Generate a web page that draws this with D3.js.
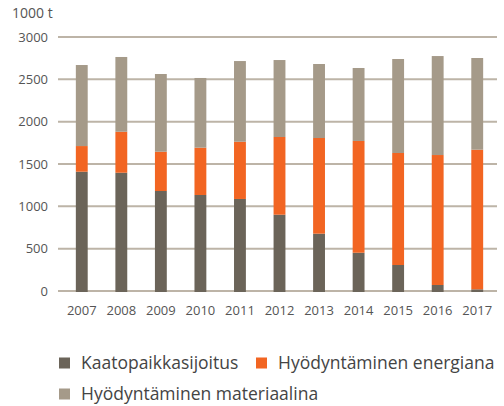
<!DOCTYPE html>
<html>
<head>
<meta charset="utf-8">
<script src="https://cdn.jsdelivr.net/npm/d3@7"></script>
<style>
  body { margin: 0; background: #fff; }
  text { font-family: "Open Sans", sans-serif; }
</style>
</head>
<body>
<script>
let w = 504;
let h = 406;

// data (1000 t)
let years = ["2007", "2008", "2009", "2010", "2011", "2012", "2013", "2014", "2015", "2016", "2017"];
let landfill = [1409, 1397, 1181, 1134, 1087, 901, 677, 452, 307, 71, 20];
let energy = [303, 484, 464, 559, 676, 918, 1130, 1320, 1323, 1535, 1649];
let material = [957, 883, 918, 823, 953, 909, 874, 862, 1110, 1169, 1083];
let seriesNames = ["Kaatopaikkasijoitus", "Hyödyntäminen energiana", "Hyödyntäminen materiaalina"];
let seriesColors = ["#6b6459", "#f26522", "#a59a89"];
let yTicks = [0, 500, 1000, 1500, 2000, 2500, 3000];

let rows = years.map((y, i) => ({ year: y, a: landfill[i], b: energy[i], c: material[i] }));
let stack = d3.stack().keys(["a", "b", "c"])(rows);

let xScale = d3.scaleBand()
  .domain(years)
  .range([62, 497])
  .paddingInner(0.7)
  .paddingOuter(0.35);

let yScale = d3.scaleLinear()
  .domain([0, 3000])
  .range([291, 37]);

let svg = d3.select("body")
  .append("svg")
  .attr("width", w)
  .attr("height", h);

// gridlines
svg.append("g")
  .selectAll("line")
  .data(yTicks)
  .enter()
  .append("line")
  .attr("x1", 58)
  .attr("x2", 497)
  .attr("y1", d => yScale(d))
  .attr("y2", d => yScale(d))
  .attr("stroke", "#bdb4a7")
  .attr("stroke-width", 2);

// y axis labels
let yAxis = d3.axisLeft(yScale).tickValues(yTicks).tickFormat(d3.format("d")).tickSize(0).tickPadding(0);
svg.append("g")
  .attr("transform", "translate(48,0)")
  .call(yAxis)
  .call(g => g.select(".domain").remove())
  .selectAll("text")
  .attr("font-family", "Open Sans, sans-serif")
  .attr("font-size", "13px")
  .attr("fill", "#555");

svg.append("text")
  .attr("x", 12)
  .attr("y", 18)
  .attr("font-size", "14px")
  .attr("fill", "#555")
  .text("1000 t");

// bars
svg.append("g")
  .selectAll("g")
  .data(stack)
  .enter()
  .append("g")
  .attr("fill", (d, i) => seriesColors[i])
  .selectAll("rect")
  .data(d => d)
  .enter()
  .append("rect")
  .attr("x", d => xScale(d.data.year))
  .attr("width", xScale.bandwidth())
  .attr("y", d => yScale(d[1]))
  .attr("height", d => yScale(d[0]) - yScale(d[1]) + (d[0] === 0 ? 1 : 0));

// x axis labels
let xAxis = d3.axisBottom(xScale).tickSize(0).tickPadding(0);
svg.append("g")
  .attr("transform", "translate(0,306)")
  .call(xAxis)
  .call(g => g.select(".domain").remove())
  .selectAll("text")
  .attr("font-family", "Open Sans, sans-serif")
  .attr("font-size", "13px")
  .attr("fill", "#555");

// legend
let legendPos = [[59, 363], [256, 363], [59, 394]];
let legend = svg.append("g")
  .selectAll("g")
  .data(seriesNames)
  .enter()
  .append("g")
  .attr("transform", (d, i) => "translate(" + legendPos[i][0] + "," + legendPos[i][1] + ")");

legend.append("rect")
  .attr("x", 0)
  .attr("y", -5.5)
  .attr("width", 11)
  .attr("height", 11)
  .attr("fill", (d, i) => seriesColors[i]);

legend.append("text")
  .attr("x", 22)
  .attr("y", 0)
  .attr("dy", "0.35em")
  .attr("font-size", "17.5px")
  .attr("fill", "#444")
  .text(d => d);
</script>
</body>
</html>
